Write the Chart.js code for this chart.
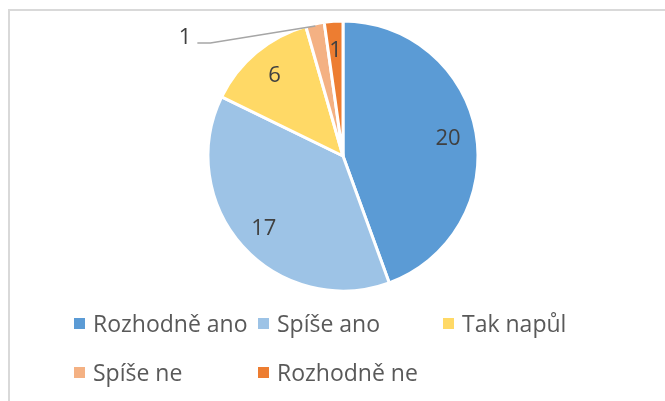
<!DOCTYPE html>
<html><head><meta charset="utf-8">
<script src="https://cdn.jsdelivr.net/npm/chart.js@4"></script>
<style>html,body{margin:0;padding:0;background:#fff;overflow:hidden;} #wrap{position:relative;width:665px;height:401px;}</style>
</head><body><div id="wrap"><canvas id="c" width="665" height="401"></canvas></div>
<script>
const categories = ['Rozhodně ano', 'Spíše ano', 'Tak napůl', 'Spíše ne', 'Rozhodně ne'];
const values = [20, 17, 6, 1, 1];
const colors = ['#5B9BD5', '#9DC3E6', '#FFD966', '#F4B183', '#ED7D31'];
const labelOutside = [false, false, false, true, false];

const FONT = '"Open Sans", "DejaVu Sans", sans-serif';

const framePlugin = {
  id: 'frame',
  beforeDraw(chart) {
    const ctx = chart.ctx;
    ctx.save();
    ctx.strokeStyle = '#d9d9d9';
    ctx.lineWidth = 2;
    ctx.strokeRect(9, 10, 800, 600);
    ctx.restore();
  }
};

const valueLabelPlugin = {
  id: 'valueLabels',
  afterDatasetsDraw(chart) {
    const ctx = chart.ctx;
    const meta = chart.getDatasetMeta(0);
    const ds = chart.data.datasets[0];
    ctx.save();
    ctx.font = '22px ' + FONT;
    ctx.fillStyle = '#404040';
    ctx.textBaseline = 'middle';
    meta.data.forEach((arc, i) => {
      const p = arc.getProps(['x', 'y', 'startAngle', 'endAngle', 'outerRadius'], true);
      const mid = (p.startAngle + p.endAngle) / 2;
      const txt = String(ds.data[i]);
      if (!labelOutside[i]) {
        const r = p.outerRadius * 0.79;
        ctx.textAlign = 'center';
        ctx.fillText(txt, p.x + Math.cos(mid) * r, p.y + Math.sin(mid) * r + 1);
      } else {
        const ax = p.x + Math.cos(mid) * (p.outerRadius - 2);
        const ay = p.y + Math.sin(mid) * (p.outerRadius - 2);
        const ex = ax - 105, ey = ay + 17;
        const fx = ex - 13;
        ctx.strokeStyle = '#a6a6a6';
        ctx.lineWidth = 1.5;
        ctx.beginPath();
        ctx.moveTo(ax, ay);
        ctx.lineTo(ex, ey);
        ctx.lineTo(fx, ey);
        ctx.stroke();
        ctx.textAlign = 'right';
        ctx.fillText(txt, fx - 6, ey - 5);
      }
    });
    ctx.restore();
  }
};

const gridLegendPlugin = {
  id: 'gridLegend',
  afterDraw(chart) {
    const ctx = chart.ctx;
    const cols = [74, 258, 443];
    const rows = [332, 381];
    const ds = chart.data.datasets[0];
    ctx.save();
    ctx.font = '23px ' + FONT;
    ctx.textAlign = 'left';
    ctx.textBaseline = 'alphabetic';
    chart.data.labels.forEach((lab, i) => {
      const c = i % 3, r = Math.floor(i / 3);
      const x = cols[c], y = rows[r];
      ctx.fillStyle = ds.backgroundColor[i];
      ctx.fillRect(x, y - 14, 11, 11);
      ctx.fillStyle = '#595959';
      ctx.fillText(lab, x + 19, y);
    });
    ctx.restore();
  }
};

new Chart(document.getElementById('c'), {
  type: 'pie',
  data: {
    labels: categories,
    datasets: [{
      data: values,
      backgroundColor: colors,
      borderColor: '#ffffff',
      borderWidth: 3,
      hoverOffset: 0
    }]
  },
  options: {
    responsive: false,
    animation: false,
    radius: 135,
    layout: { padding: { left: 21, right: 0, top: 19, bottom: 108 } },
    plugins: {
      legend: { display: false },
      tooltip: { enabled: false }
    }
  },
  plugins: [framePlugin, valueLabelPlugin, gridLegendPlugin]
});
</script>
</body></html>
